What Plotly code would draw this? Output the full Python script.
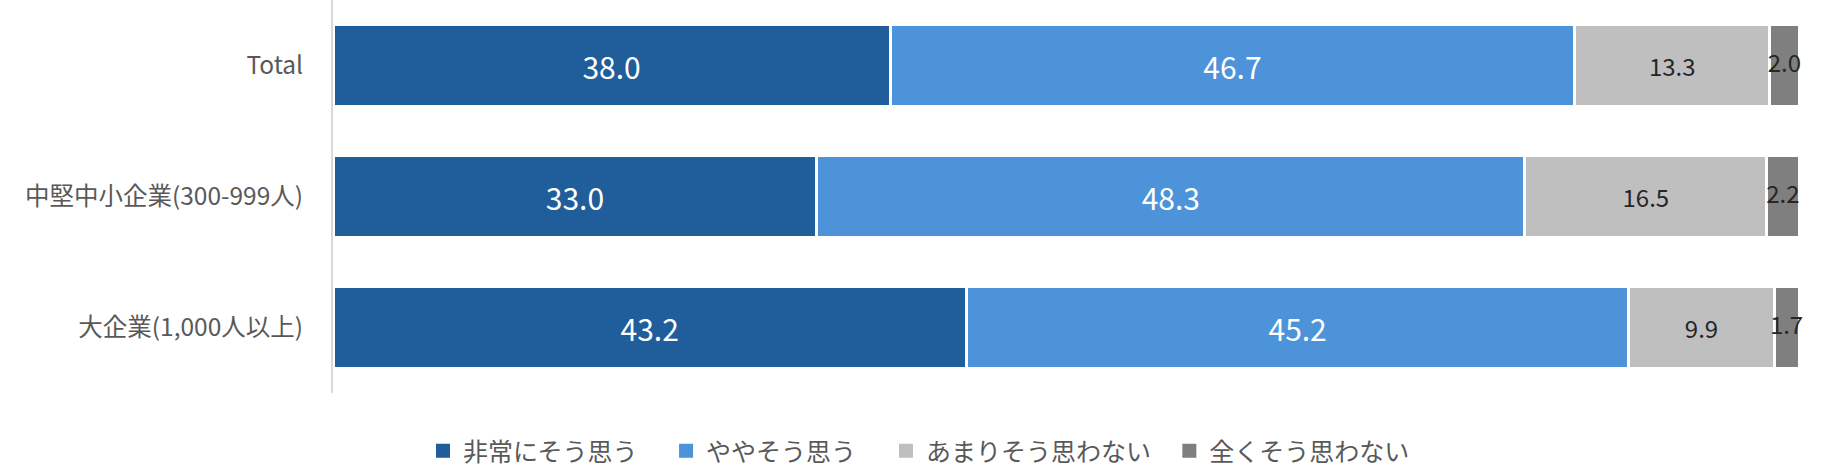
import plotly.graph_objects as go

# groups shown top to bottom
groups = ["Total", "中堅中小企業(300-999人)", "大企業(1,000人以上)"]

answer_names = ["非常にそう思う", "ややそう思う", "あまりそう思わない", "全くそう思わない"]
very_much = [38.0, 33.0, 43.2]
somewhat = [46.7, 48.3, 45.2]
not_really = [13.3, 16.5, 9.9]
not_at_all = [2.0, 2.2, 1.7]

series = [very_much, somewhat, not_really, not_at_all]
colors = ["#1f5d9b", "#4c93da", "#bfbfbf", "#7f7f7f"]
label_colors = ["white", "white", "#262626", "#262626"]
label_sizes = [30, 30, 24, 24]
legend_ids = ["legend", "legend2", "legend3", "legend4"]
legend_x = [0.0614, 0.2272, 0.3772, 0.5705]

FONT = "Noto Sans CJK JP"

fig = go.Figure()
for i, (name, vals) in enumerate(zip(answer_names, series)):
    last = i == len(series) - 1
    fig.add_trace(go.Bar(
        y=groups, x=vals, name=name, orientation="h",
        marker=dict(color=colors[i], line=dict(color="white", width=3)),
        text=[f"{v:.1f}" for v in vals],
        # the thin last segment is labelled by a text trace below
        textposition="none" if last else "inside", insidetextanchor="middle",
        textangle=0, constraintext="none",
        textfont=dict(family=FONT, size=label_sizes[i], color=label_colors[i]),
        showlegend=False,
    ))
    # legend-only entry so the swatch is a plain solid square
    fig.add_trace(go.Scatter(
        x=[None], y=[None], mode="markers", name=name,
        marker=dict(symbol="square", size=14, color=colors[i]),
        legend=legend_ids[i], hoverinfo="skip",
    ))

# labels for the narrow segment, centred on it and allowed to spill over
base = [a + b + c for a, b, c in zip(very_much, somewhat, not_really)]
mid = [b + v / 2 for b, v in zip(base, not_at_all)]
fig.add_trace(go.Scatter(
    x=mid, y=groups, mode="text", text=[f"{v:.1f}" for v in not_at_all],
    textfont=dict(family=FONT, size=24, color="#262626"),
    showlegend=False, hoverinfo="skip", cliponaxis=False,
))

legend_style = dict(orientation="h", xanchor="left", y=-0.149, yanchor="middle",
                    font=dict(size=25, color="#595959"), bgcolor="rgba(0,0,0,0)")
fig.update_layout(
    width=1832, height=474,
    barmode="stack", bargap=0.37,
    margin=dict(l=333, r=33, t=0, b=78),
    paper_bgcolor="white", plot_bgcolor="white",
    font=dict(family=FONT, color="#595959"),
    showlegend=True,
    legend=dict(x=legend_x[0], **legend_style),
    legend2=dict(x=legend_x[1], **legend_style),
    legend3=dict(x=legend_x[2], **legend_style),
    legend4=dict(x=legend_x[3], **legend_style),
)
fig.update_xaxes(range=[0, 100], visible=False)
fig.update_yaxes(autorange="reversed", showline=True, linecolor="#d9d9d9", linewidth=2,
                 tickfont=dict(size=24.5, color="#595959"), ticklabelstandoff=23,
                 showgrid=False, zeroline=False)

# the page body has an 8px margin by default; drop it so the figure sits at 0,0
fig.write_html("out.html", config={"displayModeBar": False},
               post_script="document.body.style.margin='0';")
